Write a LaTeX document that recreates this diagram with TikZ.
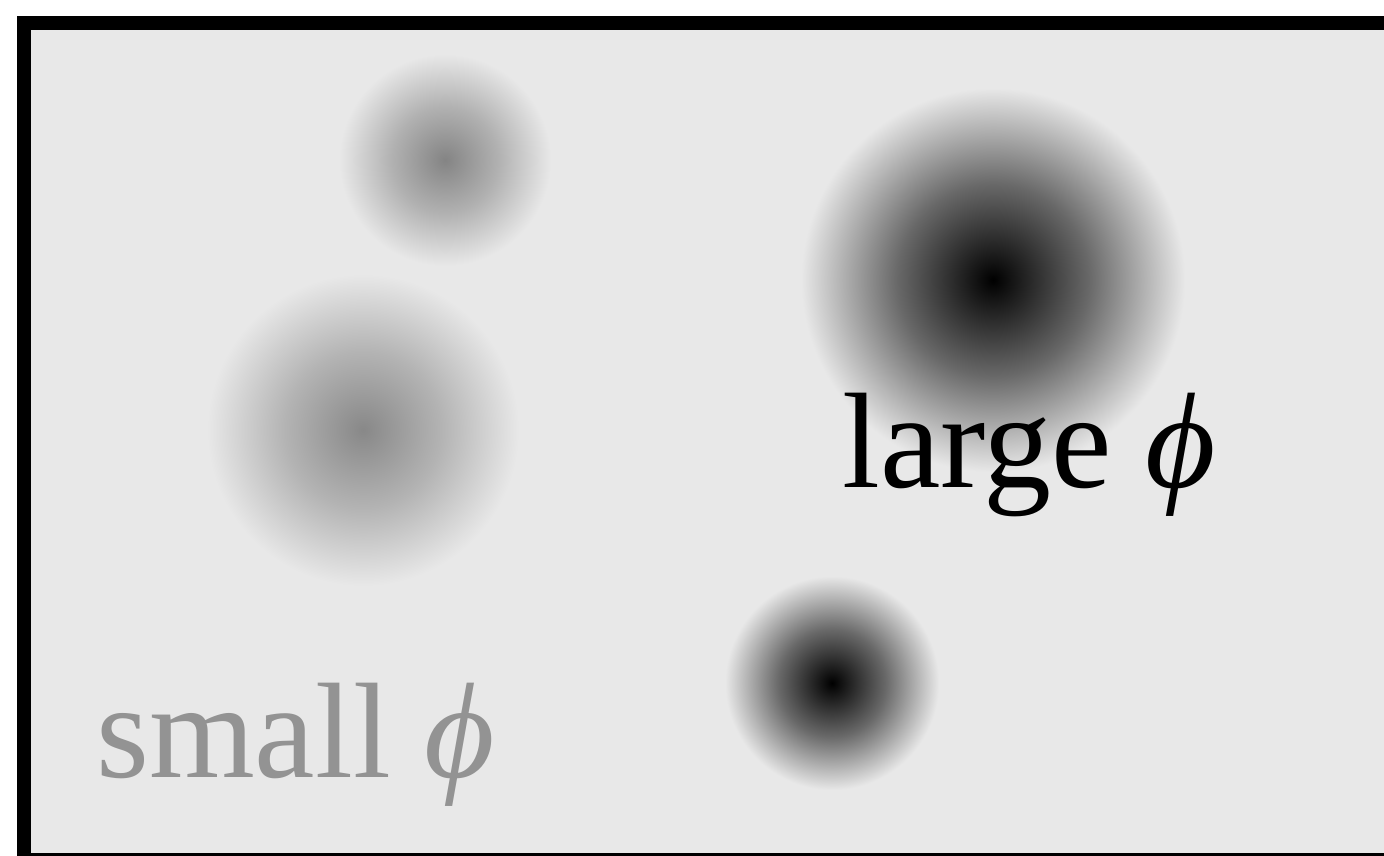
\documentclass[tikz,border=0pt]{standalone}
\usepackage{fontspec}
\setmainfont{Liberation Serif}
\usepackage{xcolor}
\usepackage{tikz}
\usetikzlibrary{positioning}
\definecolor{panelgray}{RGB}{232,232,232}
\definecolor{labelgray}{RGB}{147,147,147}
\definecolor{coregray}{RGB}{132,132,132}
\definecolor{coresoft}{RGB}{136,136,136}
\colorlet{blobin}{black}
\colorlet{blobmid}{blobin!55!panelgray}
\pgfdeclareradialshading[blobin,blobmid]{blobshade}{\pgfpoint{0bp}{0bp}}{%
  color(0bp)=(blobin); color(12.5bp)=(blobmid); color(25bp)=(panelgray); color(50bp)=(panelgray)}
\tikzset{
  frame/.style={draw=black,fill=panelgray,line width=14pt},
  blob/.style={circle,inner sep=0pt,minimum size=#1,shading=blobshade},
  core/.code={\colorlet{blobin}{#1}\colorlet{blobmid}{#1!55!panelgray}},
  philabel/.style={anchor=base west,inner sep=0pt,font=\fontsize{136}{150}\selectfont}
}

\begin{document}
\begin{tikzpicture}[x=1pt,y=-1pt]
  \useasboundingbox (0,0) rectangle (1384,855);
  \clip (0,0) rectangle (1384,855);

  \draw[frame] (23.5,23) rectangle (1400,860);

  \foreach \p/\cx/\cy/\r/\col in {sa/445/160/106/coregray,sb/363/430/156/coresoft,la/993/280/192/black,lb/832/683/107/black}{
    \node[core=\col,blob=2*\r pt] (\p) at (\cx,\cy) {};
  }

  \node[philabel,text=black] (large) at (842,487) {large \textit{ϕ}};
  \node[philabel,text=labelgray] (small) at (96,777) {small \textit{ϕ}};
\end{tikzpicture}
\end{document}
